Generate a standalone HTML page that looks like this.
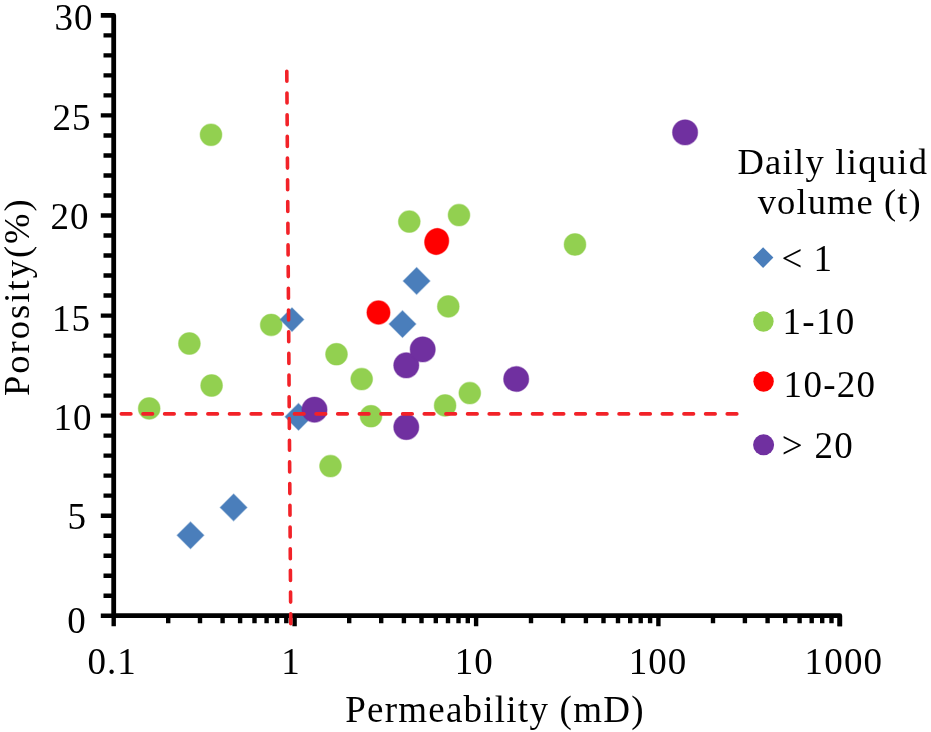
<!DOCTYPE html>
<html><head><meta charset="utf-8"><style>
html,body{margin:0;padding:0;background:#fff;width:931px;height:732px;overflow:hidden}
svg{display:block}
text{fill:#000;font-family:"Liberation Serif",serif}
</style></head><body>
<svg width="931" height="732" viewBox="0 0 931 732">
<rect width="931" height="732" fill="#fff"/>
<g>
<path d="M100.8 15.4 H113.7 V615.7 H839.8 V626.2" fill="none" stroke="#000" stroke-width="4.8" stroke-linejoin="round"/>
<path d="M100.8 615.7H113.7M103.5 595.7H113.7M103.5 575.7H113.7M103.5 555.7H113.7M103.5 535.7H113.7M100.8 515.7H113.7M103.5 495.6H113.7M103.5 475.6H113.7M103.5 455.6H113.7M103.5 435.6H113.7M100.8 415.6H113.7M103.5 395.6H113.7M103.5 375.6H113.7M103.5 355.6H113.7M103.5 335.6H113.7M100.8 315.6H113.7M103.5 295.5H113.7M103.5 275.5H113.7M103.5 255.5H113.7M103.5 235.5H113.7M100.8 215.5H113.7M103.5 195.5H113.7M103.5 175.5H113.7M103.5 155.5H113.7M103.5 135.5H113.7M100.8 115.4H113.7M103.5 95.4H113.7M103.5 75.4H113.7M103.5 55.4H113.7M103.5 35.4H113.7M113.7 615.7V626.2M168.2 615.7V623.3M200.0 615.7V623.3M222.6 615.7V623.3M240.1 615.7V623.3M254.5 615.7V623.3M266.6 615.7V623.3M277.1 615.7V623.3M286.3 615.7V623.3M294.6 615.7V626.2M349.2 615.7V623.3M381.2 615.7V623.3M403.9 615.7V623.3M421.5 615.7V623.3M435.8 615.7V623.3M448.0 615.7V623.3M458.5 615.7V623.3M467.8 615.7V623.3M476.1 615.7V626.2M531.0 615.7V623.3M563.1 615.7V623.3M585.9 615.7V623.3M603.5 615.7V623.3M618.0 615.7V623.3M630.2 615.7V623.3M640.7 615.7V623.3M650.1 615.7V623.3M658.4 615.7V626.2M713.0 615.7V623.3M744.9 615.7V623.3M767.6 615.7V623.3M785.2 615.7V623.3M799.6 615.7V623.3M811.7 615.7V623.3M822.2 615.7V623.3M831.5 615.7V623.3M839.8 615.7V626.2" fill="none" stroke="#000" stroke-width="4.4"/>
<circle cx="211" cy="134.8" r="10.9" fill="#92D050" stroke="#92D050" stroke-opacity="0.45" stroke-width="1.2"/><circle cx="149.2" cy="408.4" r="10.9" fill="#92D050" stroke="#92D050" stroke-opacity="0.45" stroke-width="1.2"/><circle cx="189.4" cy="343.5" r="10.9" fill="#92D050" stroke="#92D050" stroke-opacity="0.45" stroke-width="1.2"/><circle cx="211.6" cy="385.5" r="10.9" fill="#92D050" stroke="#92D050" stroke-opacity="0.45" stroke-width="1.2"/><circle cx="271.2" cy="324.9" r="10.9" fill="#92D050" stroke="#92D050" stroke-opacity="0.45" stroke-width="1.2"/><circle cx="336.5" cy="354.2" r="10.9" fill="#92D050" stroke="#92D050" stroke-opacity="0.45" stroke-width="1.2"/><circle cx="361.7" cy="379.1" r="10.9" fill="#92D050" stroke="#92D050" stroke-opacity="0.45" stroke-width="1.2"/><circle cx="371" cy="416.2" r="10.9" fill="#92D050" stroke="#92D050" stroke-opacity="0.45" stroke-width="1.2"/><circle cx="330.5" cy="466.1" r="10.9" fill="#92D050" stroke="#92D050" stroke-opacity="0.45" stroke-width="1.2"/><circle cx="409.3" cy="221.6" r="10.9" fill="#92D050" stroke="#92D050" stroke-opacity="0.45" stroke-width="1.2"/><circle cx="459" cy="215.1" r="10.9" fill="#92D050" stroke="#92D050" stroke-opacity="0.45" stroke-width="1.2"/><circle cx="575" cy="244.5" r="10.9" fill="#92D050" stroke="#92D050" stroke-opacity="0.45" stroke-width="1.2"/><circle cx="448.3" cy="306.4" r="10.9" fill="#92D050" stroke="#92D050" stroke-opacity="0.45" stroke-width="1.2"/><circle cx="445.1" cy="405.4" r="10.9" fill="#92D050" stroke="#92D050" stroke-opacity="0.45" stroke-width="1.2"/><circle cx="469.8" cy="393.1" r="10.9" fill="#92D050" stroke="#92D050" stroke-opacity="0.45" stroke-width="1.2"/><path d="M292 307.8L303.8 319.6L292 331.40000000000003L280.2 319.6Z" fill="#4A7EBB" stroke="#4A7EBB" stroke-opacity="0.45" stroke-width="1.2"/><path d="M298.5 403.40000000000003L311.9 416.8L298.5 430.2L285.1 416.8Z" fill="#4A7EBB" stroke="#4A7EBB" stroke-opacity="0.45" stroke-width="1.2"/><path d="M190.5 521.9L203.9 535.3L190.5 548.6999999999999L177.1 535.3Z" fill="#4A7EBB" stroke="#4A7EBB" stroke-opacity="0.45" stroke-width="1.2"/><path d="M233.6 494.0L247.0 507.4L233.6 520.8L220.2 507.4Z" fill="#4A7EBB" stroke="#4A7EBB" stroke-opacity="0.45" stroke-width="1.2"/><path d="M402.5 310.70000000000005L415.9 324.1L402.5 337.5L389.1 324.1Z" fill="#4A7EBB" stroke="#4A7EBB" stroke-opacity="0.45" stroke-width="1.2"/><path d="M416.6 267.5L430.0 280.9L416.6 294.29999999999995L403.20000000000005 280.9Z" fill="#4A7EBB" stroke="#4A7EBB" stroke-opacity="0.45" stroke-width="1.2"/><ellipse cx="0" cy="0" rx="11.6" ry="11.8" transform="translate(378.5 312.5) rotate(0)" fill="#FF0000" stroke="#FF0000" stroke-opacity="0.45" stroke-width="1.2"/><ellipse cx="0" cy="0" rx="12.0" ry="13.2" transform="translate(436.7 241.5) rotate(18)" fill="#FF0000" stroke="#FF0000" stroke-opacity="0.45" stroke-width="1.2"/><circle cx="314.5" cy="409.7" r="12.6" fill="#7030A0" stroke="#7030A0" stroke-opacity="0.45" stroke-width="1.2"/><circle cx="406.3" cy="365.3" r="12.6" fill="#7030A0" stroke="#7030A0" stroke-opacity="0.45" stroke-width="1.2"/><circle cx="422.7" cy="349.4" r="12.6" fill="#7030A0" stroke="#7030A0" stroke-opacity="0.45" stroke-width="1.2"/><circle cx="406.3" cy="427.1" r="12.6" fill="#7030A0" stroke="#7030A0" stroke-opacity="0.45" stroke-width="1.2"/><circle cx="516.2" cy="379" r="12.6" fill="#7030A0" stroke="#7030A0" stroke-opacity="0.45" stroke-width="1.2"/><circle cx="685.1" cy="132.4" r="12.6" fill="#7030A0" stroke="#7030A0" stroke-opacity="0.45" stroke-width="1.2"/>
<line x1="286.8" y1="71.3" x2="290.8" y2="626" stroke="#F22228" stroke-width="3.6" stroke-linecap="round" stroke-dasharray="10 11.7"/>
<line x1="121.3" y1="413.9" x2="739" y2="413.9" stroke="#F22228" stroke-width="3.6" stroke-linecap="round" stroke-dasharray="9.6 12.04"/>
<g font-family="Liberation Serif"><path d="M763.1 247.3L773.4 257.6L763.1 267.90000000000003L752.8000000000001 257.6Z" fill="#4A7EBB"/><circle cx="763.4" cy="321.5" r="10.2" fill="#92D050"/><circle cx="763.6" cy="381.5" r="10.2" fill="#FF0000"/><circle cx="763.6" cy="444.8" r="10.5" fill="#7030A0"/></g>
</g>
<g font-family="Liberation Serif, serif" fill="#000" style="will-change:transform"><text x="54.5" y="29.8" font-size="37" letter-spacing="1.0">30</text><text x="52.6" y="129.5" font-size="37" letter-spacing="1.0">25</text><text x="50.6" y="229.0" font-size="37" letter-spacing="1.0">20</text><text x="52.1" y="330.9" font-size="37" letter-spacing="1.0">15</text><text x="53.4" y="429.7" font-size="37" letter-spacing="1.0">10</text><text x="67.6" y="529.0" font-size="37" letter-spacing="1.0">5</text><text x="67.2" y="632.6" font-size="37" letter-spacing="1.0">0</text><text x="87.5" y="674.0" font-size="37" letter-spacing="1.0">0.1</text><text x="281.3" y="673.5" font-size="37" letter-spacing="1.0">1</text><text x="454.7" y="674.0" font-size="37" letter-spacing="1.0">10</text><text x="628.8" y="674.1" font-size="37" letter-spacing="1.0">100</text><text x="804.5" y="674.1" font-size="37" letter-spacing="1.2">1000</text><text x="781.5" y="271.0" font-size="37" letter-spacing="1.0">&lt; 1</text><text x="782.5" y="334.1" font-size="37" letter-spacing="1.3">1-10</text><text x="783.6" y="396.8" font-size="37" letter-spacing="1.3">10-20</text><text x="781.8" y="457.8" font-size="37" letter-spacing="1.3">&gt; 20</text><text x="345.2" y="721.6" font-size="37" letter-spacing="1.24">Permeability (mD)</text><text transform="translate(29 396) rotate(-90)" font-size="36.5" letter-spacing="2.03">Porosity(%)</text><text x="737.4" y="173.5" font-size="36.5" letter-spacing="1.29">Daily liquid</text><text x="757.7" y="214" font-size="36.5" letter-spacing="1.1">volume (t)</text></g>
</svg>
</body></html>
